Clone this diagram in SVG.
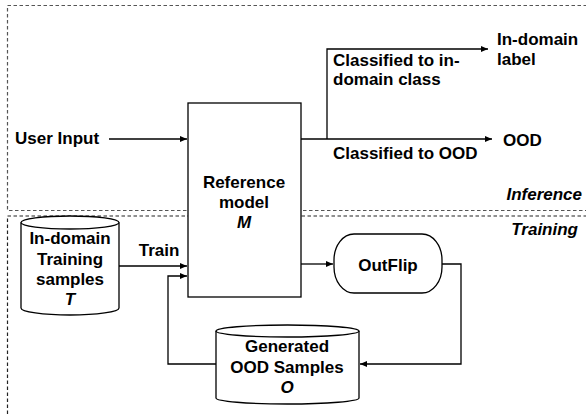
<svg xmlns="http://www.w3.org/2000/svg" width="586" height="416" viewBox="0 0 586 416">
<defs>
<marker id="ah" markerWidth="8" markerHeight="6" refX="7" refY="3" orient="auto" markerUnits="userSpaceOnUse">
<path d="M0,0 L7,3 L0,6 Z" fill="#000"/>
</marker>
<style>
text{font-family:"Liberation Sans",Arial,sans-serif;font-weight:bold;font-size:17px;fill:#000}
.c{text-anchor:middle}
.i{font-style:italic}
.r{text-anchor:end}
.shape{fill:#fff;stroke:#000;stroke-width:1.3}
.conn{fill:none;stroke:#000;stroke-width:1.3}
.zone{fill:none;stroke-width:1.2;stroke-dasharray:3.5 2.5}
</style>
</defs>
<rect width="586" height="416" fill="#fff"/>
<g id="zones">
<rect class="zone" x="7.5" y="5.5" width="590" height="205" stroke="#555"/>
<rect class="zone" x="7.5" y="216" width="590" height="220" stroke="#222"/>
<text class="i r" x="582" y="200">Inference</text>
<text class="i r" x="578" y="235">Training</text>
</g>
<g id="connectors">
<path class="conn" d="M109,139 H187" marker-end="url(#ah)"/>
<path class="conn" d="M301,139 H492" marker-end="url(#ah)"/>
<path class="conn" d="M327,139 V49 H488" marker-end="url(#ah)"/>
<path class="conn" d="M119,266 H187" marker-end="url(#ah)"/>
<path class="conn" d="M216,364 H168 V276 H187" marker-end="url(#ah)"/>
<path class="conn" d="M301,264 H333" marker-end="url(#ah)"/>
<path class="conn" d="M442,264 H461 V364 H360" marker-end="url(#ah)"/>
<text x="15" y="144">User Input</text>
<text x="333" y="66">Classified to in-</text>
<text x="333" y="85">domain class</text>
<text x="333" y="159">Classified to OOD</text>
<text class="c" x="159" y="256">Train</text>
</g>
<g id="model">
<rect class="shape" x="188" y="103" width="113" height="194"/>
<text class="c" x="244" y="188">Reference</text>
<text class="c" x="244" y="208">model</text>
<text class="c i" x="244" y="228">M</text>
</g>
<g id="indomain-label">
<text x="497" y="45">In-domain</text>
<text x="497" y="65">label</text>
</g>
<g id="ood">
<text x="503" y="146">OOD</text>
</g>
<g id="training-samples">
<path class="shape" d="M21,222.5 A49,6.5 0 0 1 119,222.5 V308 A49,7 0 0 1 21,308 Z"/>
<path class="conn" d="M21,222.5 A49,6.5 0 0 0 119,222.5"/>
<text class="c" x="70" y="244">In-domain</text>
<text class="c" x="70" y="265">Training</text>
<text class="c" x="70" y="285">samples</text>
<text class="c i" x="70" y="305">T</text>
</g>
<g id="outflip">
<rect class="shape" x="334" y="234" width="108" height="59" rx="20" ry="26"/>
<text class="c" x="388" y="271">OutFlip</text>
</g>
<g id="generated">
<path class="shape" d="M216,331 A71.5,6 0 0 1 359,331 V398 A71.5,6 0 0 1 216,398 Z"/>
<path class="conn" d="M216,331 A71.5,6 0 0 0 359,331"/>
<text class="c" x="287" y="352">Generated</text>
<text class="c" x="287" y="373">OOD Samples</text>
<text class="c i" x="287" y="393">O</text>
</g>
</svg>
